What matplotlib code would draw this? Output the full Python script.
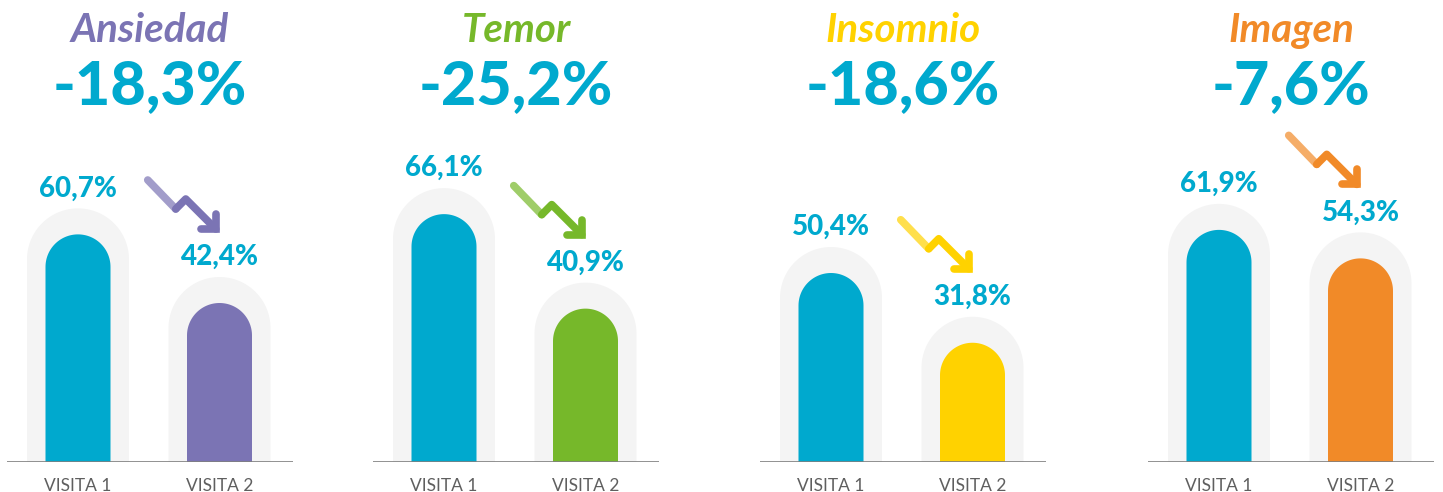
import numpy as np
import matplotlib
matplotlib.use("Agg")
import matplotlib.pyplot as plt
from matplotlib.patches import Polygon

# datos
categorias = ["Ansiedad", "Temor", "Insomnio", "Imagen"]
visita1 = [60.7, 66.1, 50.4, 61.9]
visita2 = [42.4, 40.9, 31.8, 54.3]
cambios = ["-18,3%", "-25,2%", "-18,6%", "-7,6%"]
etiquetas_x = ["VISITA 1", "VISITA 2"]
colores = ["#7B74B4", "#76B82A", "#FFD200", "#F18A28"]

CIAN = "#00A9CE"
GRIS_FONDO = "#F4F4F4"
FUENTE = "Lato"

W, H = 1443, 492
PX = 3.75         # pixeles por punto porcentual
BASE = 462        # linea base (px desde arriba)
PANEL_W = 286
IZQ = [7, 373, 760, 1148]   # borde izquierdo de cada panel (px)


def barra_redonda(ax, xc, ancho, alto, color):
    r = ancho / 2
    t = np.linspace(0, np.pi, 60)
    arco = np.column_stack([xc + r * np.cos(t), (alto - r) + r * np.sin(t)])
    pts = np.vstack([[xc + r, 0], arco, [xc - r, 0]])
    ax.add_patch(Polygon(pts, closed=True, facecolor=color, edgecolor="none"))


def flecha(ax, cx, cy, color):
    # zigzag en px relativos al centro (y hacia abajo)
    def p(dx, dy):
        return cx + dx / PX, cy - dy / PX
    lw = 5.5
    a = p(-34, -25); b = p(-6, 4); c = p(4, -6); d = p(34, 24)
    ax.plot([a[0], b[0]], [a[1], b[1]], color=color, alpha=0.7, lw=lw,
            solid_capstyle="round", solid_joinstyle="round")
    ax.plot([b[0], c[0], d[0]], [b[1], c[1], d[1]], color=color, lw=lw,
            solid_capstyle="round", solid_joinstyle="round")
    h1 = p(34, 9); h2 = p(34, 24); h3 = p(19, 24)
    ax.plot([h1[0], h2[0], h3[0]], [h1[1], h2[1], h3[1]], color=color, lw=lw,
            solid_capstyle="round", solid_joinstyle="miter")


fig = plt.figure(figsize=(W / 100, H / 100), dpi=100)

for i in range(4):
    ax = fig.add_axes([IZQ[i] / W, (H - BASE) / H, PANEL_W / W, BASE / H])
    ax.set_xlim(0, PANEL_W / PX)
    ax.set_ylim(0, BASE / PX)
    ax.axis("off")

    xs = [71 / PX, 212.5 / PX]
    vals = [visita1[i], visita2[i]]
    cols = [CIAN, colores[i]]
    for x, v, c, lab in zip(xs, vals, cols, etiquetas_x):
        barra_redonda(ax, x, 102 / PX, v + 26 / PX, GRIS_FONDO)
        barra_redonda(ax, x, 65 / PX, v, c)
        ax.text(x, v + 46 / PX, f"{v:.1f}%".replace(".", ","), ha="center",
                va="center", color=CIAN, fontsize=20, fontweight="black",
                family=FUENTE)
        ax.text(x, -24 / PX, lab, ha="center", va="center", color="#5F5F5F",
                fontsize=12.5, family=FUENTE)

    ax.axhline(0, color="#7F7F7F", lw=1.2, zorder=5)

    # flecha encima de la etiqueta de la visita 2
    cy = vals[1] + (46 + 52) / PX
    cx = (xs[0] + xs[1]) / 2 + 33 / PX
    flecha(ax, cx, cy, colores[i])

    mid = PANEL_W / PX / 2
    ax.text(mid, (BASE - 30) / PX, categorias[i], ha="center", va="center",
            color=colores[i], fontsize=29, fontweight="bold", style="italic",
            family=FUENTE)
    ax.text(mid, (BASE - 86) / PX, cambios[i], ha="center", va="center",
            color=CIAN, fontsize=44, fontweight="black", family=FUENTE)

fig.savefig("out.png", dpi=100, facecolor="white")
